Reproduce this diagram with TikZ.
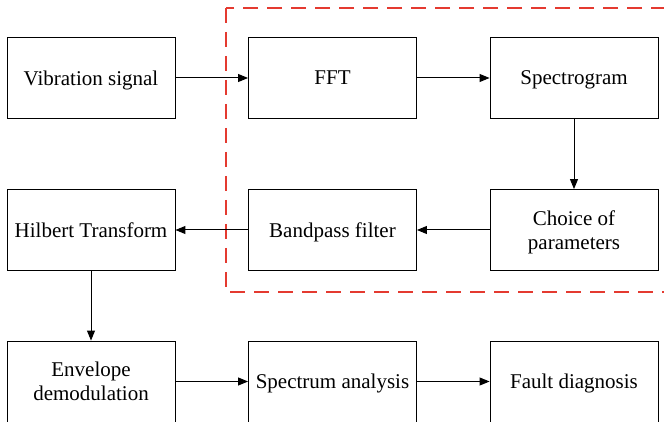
\documentclass[tikz,border=0pt]{standalone}
\usepackage{fontspec}
\setmainfont{Liberation Serif}
\usetikzlibrary{arrows.meta, positioning}
\definecolor{framered}{RGB}{228,58,48}
\tikzset{
    block/.style={draw, line width=0.9pt, minimum width=168pt, minimum height=81pt,
        align=center, inner sep=2pt, text depth=0pt, font=\fontsize{21}{24}\selectfont},
    flow/.style={line width=1pt, -{Triangle[length=10pt, width=8pt]}},
}

\begin{document}
\begin{tikzpicture}[x=1pt, y=-1pt]
    \useasboundingbox (0,0) rectangle (664,422);

    % Dashed frame round the time-frequency part
    \draw[framered, line width=2pt, dash pattern=on 15pt off 9pt] (226,8) rectangle (690,292);

    % Blocks
    \node[block] (vib) at (91,78) {Vibration signal};
    \node[block] (fft) at (332.5,78) {FFT};
    \node[block] (spec) at (574,78) {Spectrogram};
    \node[block] (choice) at (574,230) {Choice of\\parameters};
    \node[block] (band) at (332.5,230) {Bandpass filter};
    \node[block] (hilb) at (91,230) {Hilbert Transform};
    \node[block] (env) at (91,381.5) {Envelope\\demodulation};
    \node[block] (spa) at (332.5,381.5) {Spectrum analysis};
    \node[block] (fault) at (574,381.5) {Fault diagnosis};

    % Connectors
    \draw[flow] (vib) -- (fft);
    \draw[flow] (fft) -- (spec);
    \draw[flow] (spec) -- (choice);
    \draw[flow] (choice) -- (band);
    \draw[flow] (band) -- (hilb);
    \draw[flow] (hilb) -- (env);
    \draw[flow] (env) -- (spa);
    \draw[flow] (spa) -- (fault);
\end{tikzpicture}
\end{document}
